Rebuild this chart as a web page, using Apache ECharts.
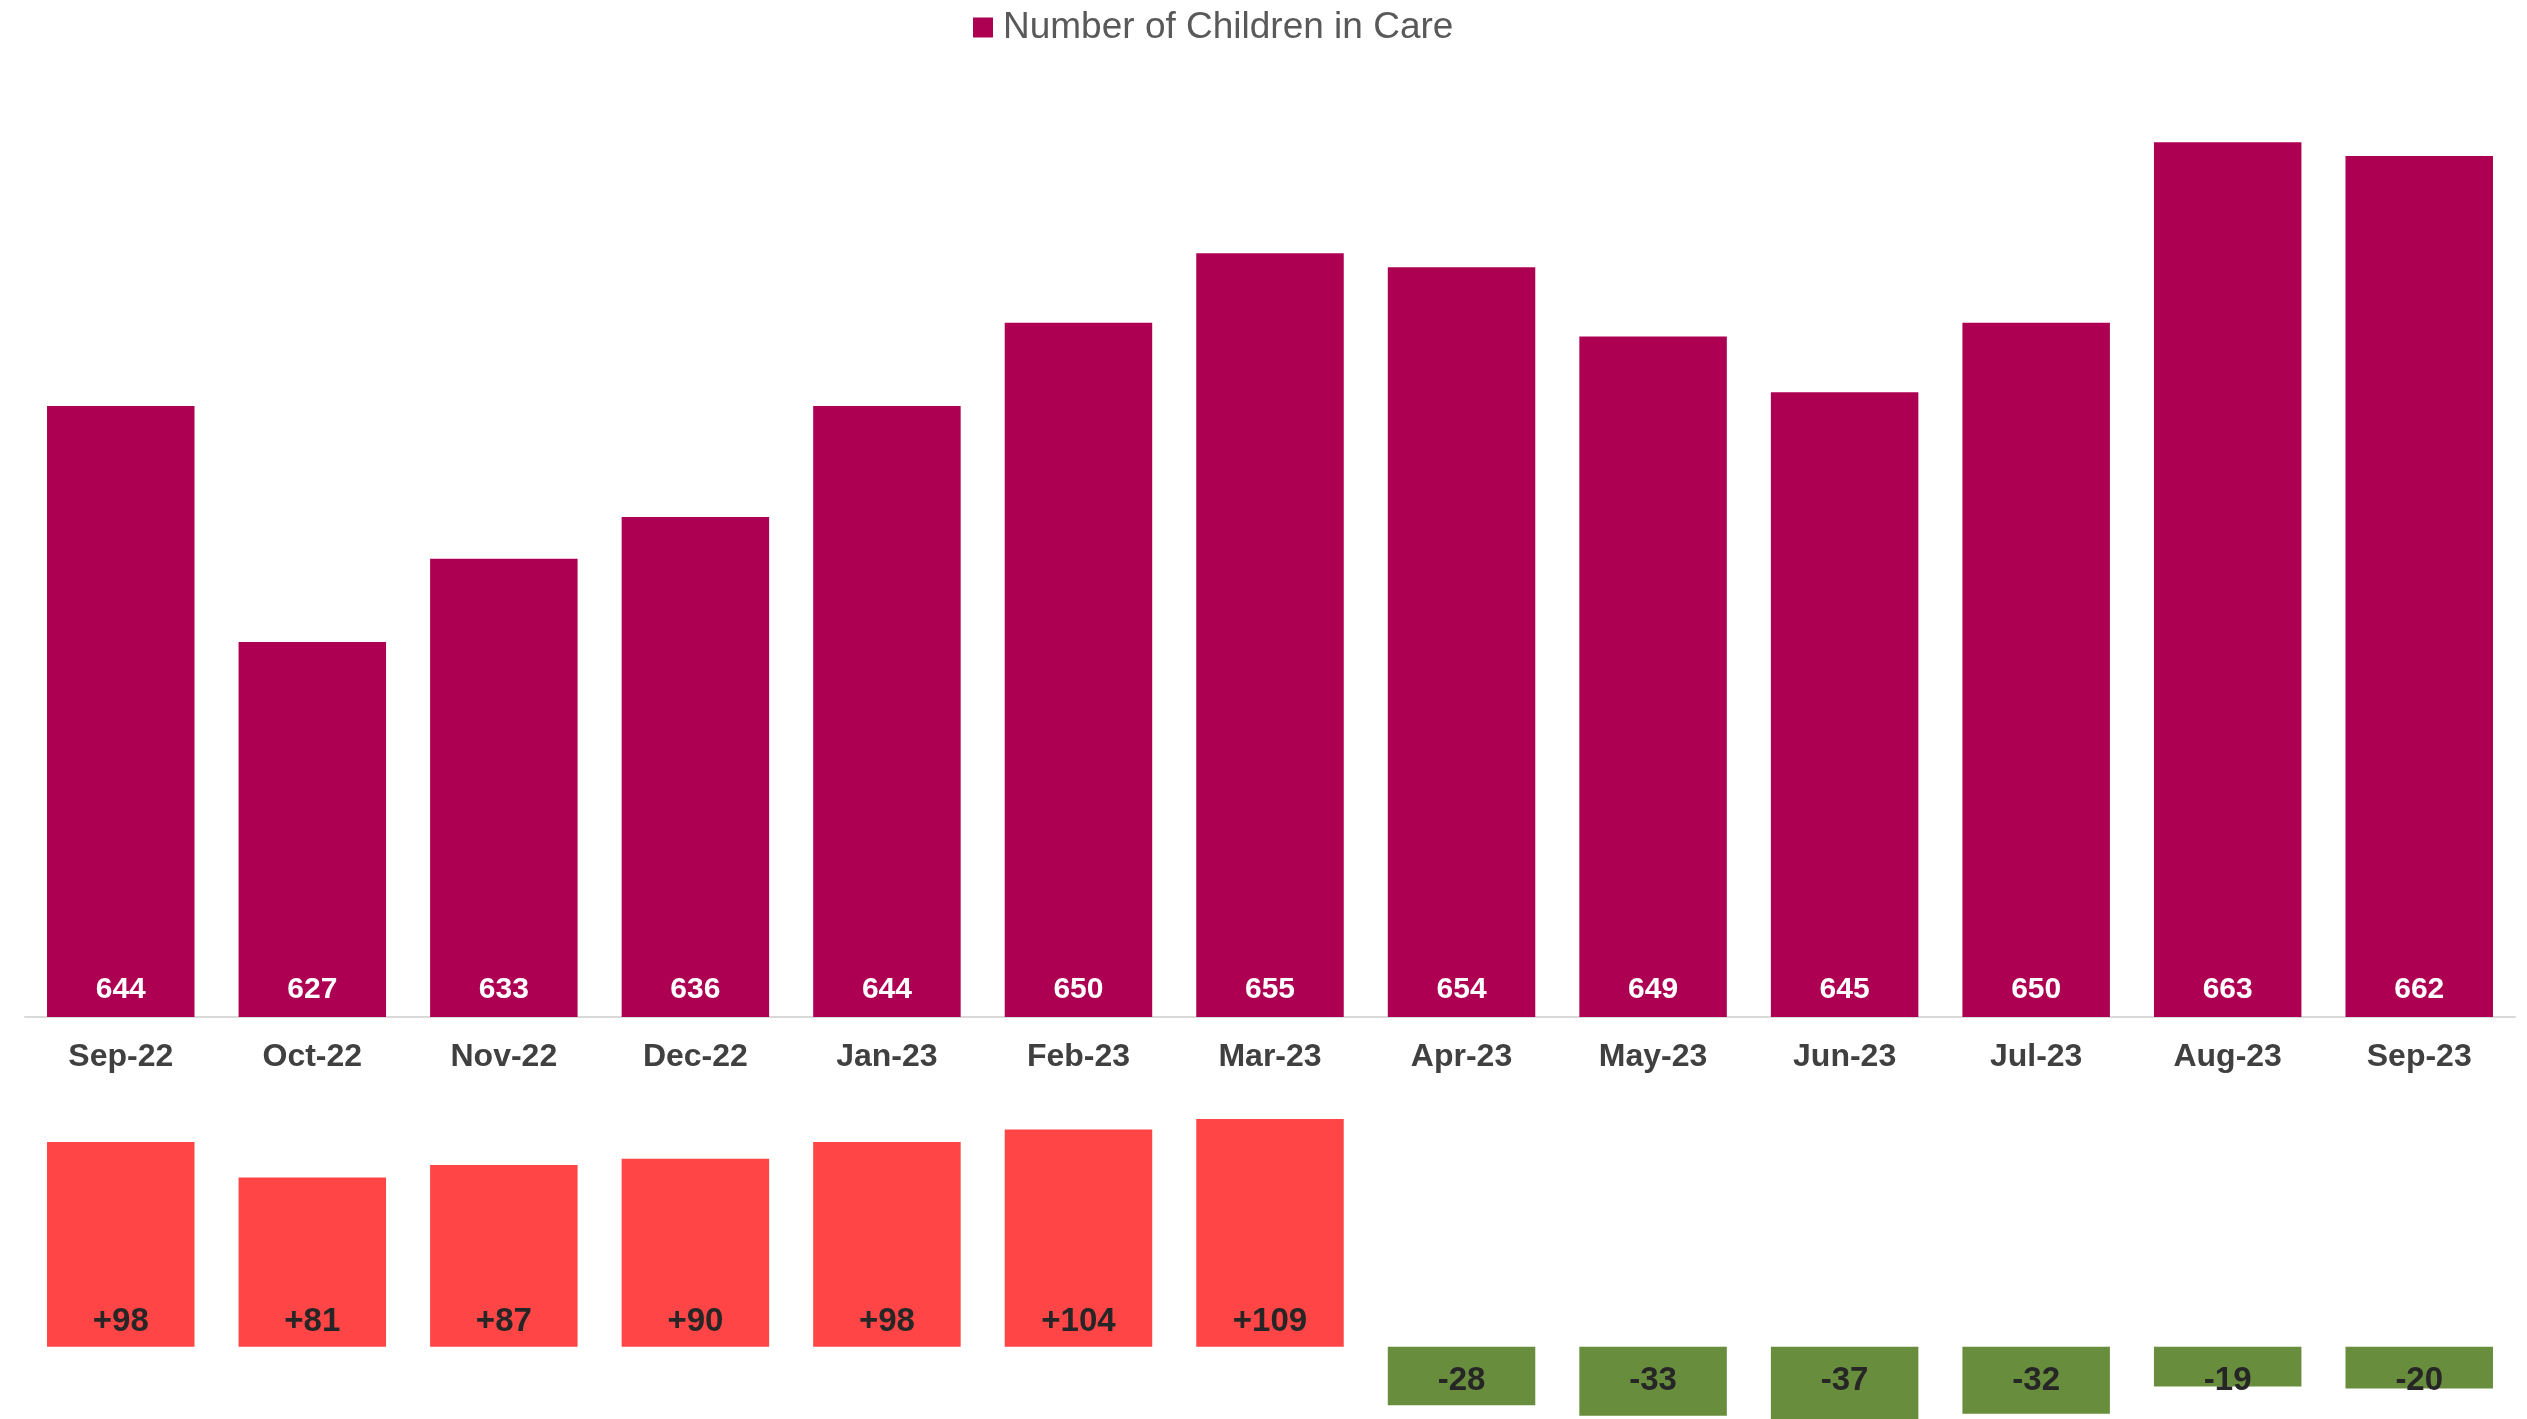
<!DOCTYPE html>
<html>
<head>
<meta charset="utf-8">
<script src="https://cdn.jsdelivr.net/npm/echarts@6/dist/echarts.min.js"></script>
<style>
  html, body { margin: 0; padding: 0; background: #fff; }
  #main { width: 2527px; height: 1419px; }
</style>
</head>
<body>
<div id="main"></div>
<script>
// chart data
const categories = ['Sep-22', 'Oct-22', 'Nov-22', 'Dec-22', 'Jan-23', 'Feb-23', 'Mar-23',
  'Apr-23', 'May-23', 'Jun-23', 'Jul-23', 'Aug-23', 'Sep-23'];
const childrenInCare = [644, 627, 633, 636, 644, 650, 655, 654, 649, 645, 650, 663, 662];
const monthlyChange = [98, 81, 87, 90, 98, 104, 109, -28, -33, -37, -32, -19, -20];

const upColor = '#FF4545';
const downColor = '#688D3C';
const narrow = '"Liberation Sans Narrow", "Arial Narrow", "Liberation Sans", sans-serif';
const arial = '"Liberation Sans", Arial, sans-serif';

const chart = echarts.init(document.getElementById('main'));

// change bars: red when up, green when down, label sits next to the zero line
const changeData = monthlyChange.map(v => ({
  value: v,
  itemStyle: { color: v >= 0 ? upColor : downColor },
  label: { position: v >= 0 ? 'insideBottom' : 'insideTop', distance: v >= 0 ? 8 : 18 }
}));

const option = {
  animation: false,
  backgroundColor: '#fff',
  legend: {
    data: ['Number of Children in Care'],
    left: 973,
    top: 9,
    padding: 0,
    icon: 'rect',
    itemWidth: 20,
    itemHeight: 20,
    textStyle: { fontFamily: arial, fontSize: 37, color: '#595959', padding: [0, 0, 0, 5] }
  },
  grid: [
    { left: 25, right: 12, top: 45, height: 972, outerBoundsMode: 'none' },
    { left: 25, right: 12, top: 1096, height: 334.4, outerBoundsMode: 'none' }
  ],
  xAxis: [
    {
      type: 'category',
      gridIndex: 0,
      data: categories,
      axisTick: { show: false },
      axisLine: { lineStyle: { color: '#D9D9D9', width: 2 } },
      axisLabel: { margin: 24, fontSize: 32, fontWeight: 'bold', color: '#404040', fontFamily: arial }
    },
    { type: 'category', gridIndex: 1, data: categories, show: false }
  ],
  yAxis: [
    { type: 'value', gridIndex: 0, min: 600, max: 670, show: false },
    { type: 'value', gridIndex: 1, min: -40, max: 120, show: false }
  ],
  series: [
    {
      name: 'Number of Children in Care',
      type: 'bar',
      xAxisIndex: 0,
      yAxisIndex: 0,
      barCategoryGap: '23%',
      itemStyle: { color: '#AE0052' },
      label: {
        show: true,
        position: 'insideBottom',
        distance: 12,
        color: '#fff',
        fontFamily: narrow,
        fontWeight: 'bold',
        fontSize: 30
      },
      data: childrenInCare
    },
    {
      name: 'Change',
      type: 'bar',
      xAxisIndex: 1,
      yAxisIndex: 1,
      barCategoryGap: '23%',
      label: {
        show: true,
        color: '#262626',
        fontFamily: narrow,
        fontWeight: 'bold',
        fontSize: 33,
        formatter: p => (p.value > 0 ? '+' : '') + p.value
      },
      data: changeData
    }
  ]
};

chart.setOption(option);
</script>
</body>
</html>
